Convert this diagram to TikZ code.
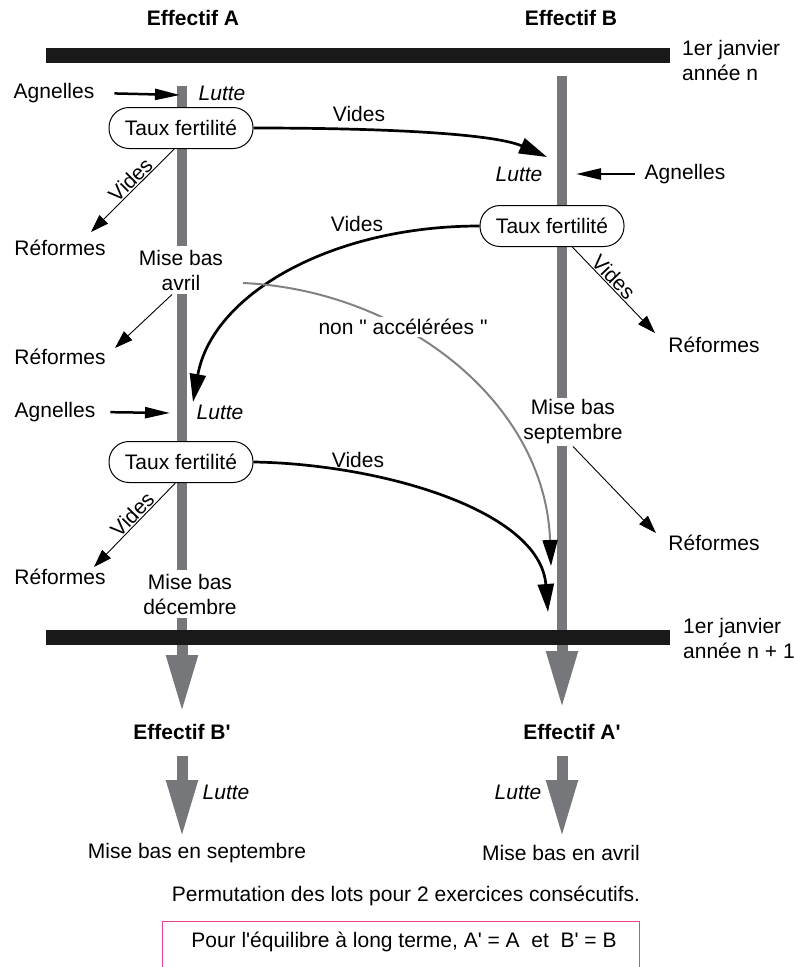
\documentclass[tikz,border=0pt]{standalone}
\usepackage{fontspec}
\setmainfont{Liberation Sans}[Ligatures=TeXOff]
\usepackage{xcolor}
\usetikzlibrary{arrows.meta}
\definecolor{bargray}{RGB}{118,119,123}
\definecolor{curvegray}{RGB}{130,130,130}
\definecolor{boxpink}{RGB}{232,64,154}
\tikzset{
	txt/.style={font=\fontsize{21}{25}\selectfont,align=center,inner sep=2pt},
	titre/.style={txt,font=\fontsize{21}{25}\selectfont\bfseries},
	lutte/.style={txt,font=\fontsize{21}{25}\selectfont\itshape},
	taux/.style={txt,draw,line width=1pt,rounded corners=20pt,fill=white,minimum width=144pt,minimum height=41pt},
	misebas/.style={txt,fill=white,inner sep=4pt},
	bar/.style={line width=10pt,bargray},
	yearbar/.style={line width=15pt,black!90},
	grand/.style={line width=11pt,bargray,-{Triangle[length=58pt,width=29pt]}},
	vides/.style={line width=2.7pt,-{Triangle[length=28pt,width=16pt]}},
	entree/.style={line width=2.5pt,-{Triangle[length=25pt,width=11pt]}},
	reforme/.style={line width=0.9pt,-{Triangle[length=18pt,width=12pt]}},
	gris/.style={line width=2pt,curvegray,-{Triangle[length=26pt,width=15pt,color=black]}},
	pente/.style={txt,sloped,above,inner sep=1pt}
}

\begin{document}
\begin{tikzpicture}[x=1pt,y=-1pt]
	\useasboundingbox (0,0) rectangle (793,967);
	\draw[bar] (182,86)--(182,637);
	\draw[bar] (562,76)--(562,637);
	\draw[grand] (182,640)--(182,713);
	\draw[grand] (562,640)--(562,709);
	\draw[grand] (182,756)--(182,838);
	\draw[grand] (562,756)--(562,838);
	\draw[yearbar] (46,55.5)--(670,55.5);
	\draw[yearbar] (46,637)--(670,637);
	\node[titre] (effA) at (193,18) {Effectif A};
	\node[titre] (effB) at (571,18) {Effectif B};
	\node[txt,anchor=west,align=left] (annee) at (680,60) {1er janvier\\année n};
	\node[txt,anchor=west,align=left] (anneeSuiv) at (681,638) {1er janvier\\année n + 1};
	\node[txt] (agnA1) at (54,93) {Agnelles};
	\node[lutte] (lutA1) at (222,93) {Lutte};
	\node[taux] (tfA1) at (181,128) {Taux fertilité};
	\node[txt] (refA1) at (60,248) {Réformes};
	\node[misebas] (mbA) at (181,270) {Mise bas\\avril};
	\node[txt] (refA2) at (60,357) {Réformes};
	\node[txt] (agnA2) at (55,412) {Agnelles};
	\node[lutte] (lutA2) at (220,412) {Lutte};
	\node[taux] (tfA2) at (181,462) {Taux fertilité};
	\node[txt] (refA3) at (60,577) {Réformes};
	\node[misebas] (mbA2) at (190,594) {Mise bas\\décembre};
	\node[lutte] (lutB) at (519,174) {Lutte};
	\node[txt] (agnB) at (685,174) {Agnelles};
	\node[taux] (tfB) at (552,226) {Taux fertilité};
	\node[txt] (refB1) at (714,345) {Réformes};
	\node[misebas,inner sep=2pt] (mbB) at (573,422) {Mise bas\\septembre};
	\node[txt] (refB2) at (714,543) {Réformes};
	\node[titre] (effBp) at (182,732) {Effectif B'};
	\node[titre] (effAp) at (572,732) {Effectif A'};
	\node[lutte] (lutBp) at (226,792) {Lutte};
	\node[lutte] (lutAp) at (518,792) {Lutte};
	\node[txt] (mbSep) at (197,853) {Mise bas en septembre};
	\node[txt] (mbAvr) at (561,853) {Mise bas en avril};
	\node[txt] (perm) at (406,896) {Permutation des lots pour 2 exercices consécutifs.};
	\draw[boxpink,line width=1pt] (162,967) |- (639,921) -- (639,967);
	\node[txt] (equil) at (404,942) {Pour l'équilibre à long terme, A' = A\ \ et\ \ B' = B};
	\coordinate (inA1) at (180,95);
	\coordinate (inA2) at (170,413);
	\coordinate (inB) at (576,174);
	\coordinate (videsB) at (547,157);
	\coordinate (videsA) at (193,402);
	\coordinate (videsB2) at (548,612);
	\coordinate (nacc) at (243,283);
	\coordinate (naccB) at (551,566);
	\coordinate (tipA1) at (91,232);
	\coordinate (tipA2) at (115,348);
	\coordinate (tipA3) at (94,567);
	\coordinate (tipB1) at (655,333);
	\coordinate (tipB2) at (656,533);
	\draw[entree,shorten <=18pt] (agnA1.east)--(inA1);
	\draw[entree,shorten <=13pt] (agnA2.east)--(inA2);
	\draw[entree,shorten <=8pt] (agnB.west)--(inB);
	\draw[vides] (tfA1.east) .. controls (403,128) and (497,135) .. (videsB);
	\node[txt] (vidAB) at (359,114) {Vides};
	\draw[vides] (tfB.west) .. controls (330,226) and (212,295) .. (videsA);
	\node[txt] (vidBA) at (357,224) {Vides};
	\draw[vides] (tfA2.east) .. controls (380,464) and (540,510) .. (videsB2);
	\node[txt] (vidAB2) at (358,460) {Vides};
	\draw[gris] (nacc) .. controls (400,290) and (545,400) .. (naccB);
	\node[txt,fill=white] (nonacc) at (403,327) {non " accélérées "};
	\draw[reforme] (tfA1.252)--(tipA1) node[pente,pos=0.45] {Vides};
	\draw[reforme] (mbA.250)--(tipA2);
	\draw[reforme] (tfA2.255)--(tipA3) node[pente,pos=0.45] {Vides};
	\draw[reforme] (tfB.314)--(tipB1) node[pente,pos=0.42] {Vides};
	\draw[reforme] (mbB.south)--(tipB2);
\end{tikzpicture}
\end{document}
